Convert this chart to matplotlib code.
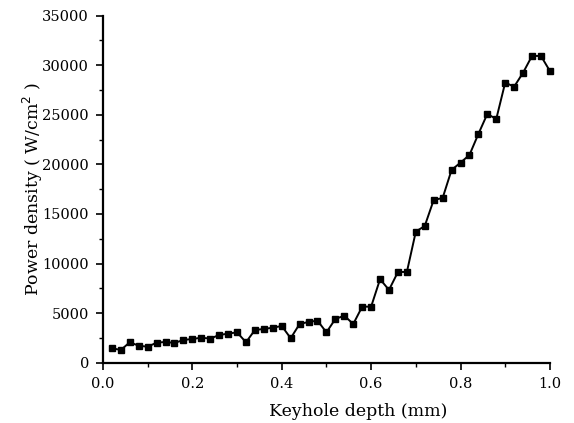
import matplotlib
matplotlib.use('Agg')
import matplotlib.pyplot as plt
from matplotlib.ticker import MultipleLocator

# keyhole depth (mm), one point every 0.02 mm
depth = [0.02, 0.04, 0.06, 0.08, 0.10, 0.12, 0.14, 0.16, 0.18, 0.20,
         0.22, 0.24, 0.26, 0.28, 0.30, 0.32, 0.34, 0.36, 0.38, 0.40,
         0.42, 0.44, 0.46, 0.48, 0.50, 0.52, 0.54, 0.56, 0.58, 0.60,
         0.62, 0.64, 0.66, 0.68, 0.70, 0.72, 0.74, 0.76, 0.78, 0.80,
         0.82, 0.84, 0.86, 0.88, 0.90, 0.92, 0.94, 0.96, 0.98, 1.00]

# power density (W/cm^2)
power = [1460, 1280, 2060, 1710, 1610, 2020, 2090, 1990, 2290, 2390,
         2520, 2430, 2790, 2930, 3060, 2060, 3300, 3400, 3530, 3700,
         2470, 3900, 4110, 4240, 3060, 4410, 4740, 3900, 5650, 5650,
         8420, 7340, 9150, 9150, 13220, 13790, 16410, 16610, 19440, 20180,
         20950, 23070, 25090, 24580, 28250, 27840, 29250, 30940, 30940, 29420]

plt.rcParams['font.family'] = 'DejaVu Serif'

fig = plt.figure(figsize=(5.74, 4.23), dpi=100)
ax = fig.add_axes([0.1794, 0.1426, 0.7786, 0.8203])

ax.plot(depth, power, color='black', linewidth=1.4, marker='s',
        markersize=5, markerfacecolor='black', markeredgecolor='black',
        clip_on=False)

ax.set_xlim(0.0, 1.0)
ax.set_ylim(0, 35000)
ax.xaxis.set_major_locator(MultipleLocator(0.2))
ax.xaxis.set_minor_locator(MultipleLocator(0.1))
ax.yaxis.set_major_locator(MultipleLocator(5000))
ax.yaxis.set_minor_locator(MultipleLocator(2500))
ax.xaxis.set_major_formatter(plt.FuncFormatter(lambda v, p: '%.1f' % v))

ax.spines['top'].set_visible(False)
ax.spines['right'].set_visible(False)
ax.spines['left'].set_linewidth(1.6)
ax.spines['bottom'].set_linewidth(1.6)

ax.tick_params(which='major', direction='out', length=5, width=1.2,
               labelsize=10.5, pad=5)
ax.tick_params(which='minor', direction='out', length=3, width=1.0)

ax.set_xlabel('Keyhole depth (mm)', fontsize=12.5)
ax.xaxis.set_label_coords(0.57, -0.115)
ax.set_ylabel('Power density ( W/cm$^2$ )', fontsize=12.5)
ax.yaxis.set_label_coords(-0.13, 0.5)

fig.savefig('out.png', dpi=100)
